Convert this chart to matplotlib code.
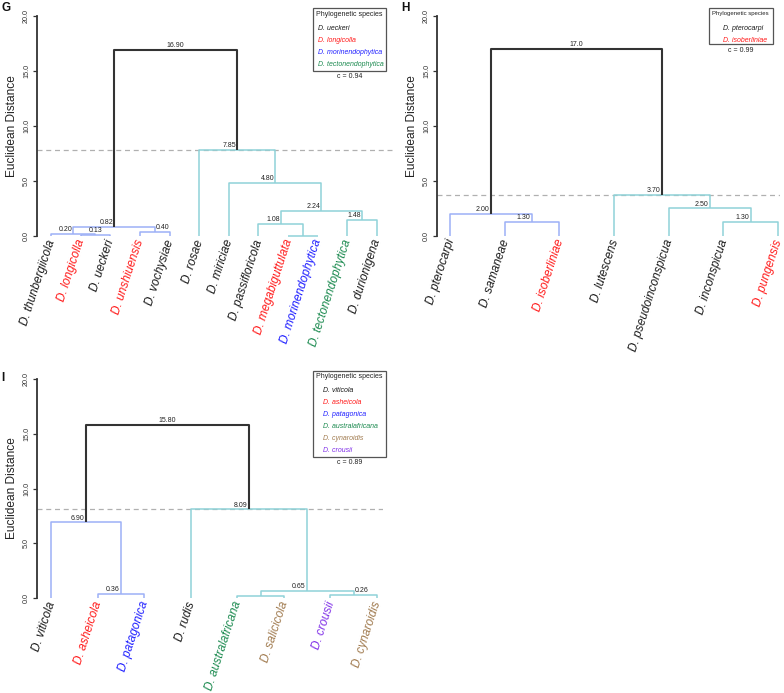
import matplotlib
matplotlib.use('Agg')
import matplotlib.pyplot as plt
from matplotlib.patches import Rectangle

plt.rcParams['font.family'] = ['Liberation Sans', 'DejaVu Sans']

W, H = 784, 693

BLACK = '#1a1a1a'
RED = '#ff1a1a'
BLUE = '#1f1fff'
GREEN = '#1b8a4f'
BROWN = '#a07a4e'
PURPLE = '#8030e8'

# ---- panel G ----
g_leaves = ['D. thunbergiicola', 'D. longicolla', 'D. ueckeri', 'D. unshiuensis',
            'D. vochysiae', 'D. rosae', 'D. miriciae', 'D. passifloricola',
            'D. megabiguttulata', 'D. morinendophytica', 'D. tectonendophytica',
            'D. durionigena']
g_leaf_colors = [BLACK, RED, BLACK, RED, BLACK, BLACK, BLACK, BLACK, RED, BLUE, GREEN, BLACK]
# merges: node ids 0..n-1 are leaves, merge k creates node n+k
g_left = [1, 0, 3, 13, 8, 7, 10, 17, 6, 5, 15]
g_right = [2, 12, 4, 14, 9, 16, 11, 18, 19, 20, 21]
g_heights = [0.13, 0.20, 0.40, 0.82, 0.02, 1.08, 1.48, 2.24, 4.80, 7.85, 16.90]
g_labels = ['0.13', '0.20', '0.40', '0.82', '', '1.08', '1.48', '2.24', '4.80', '7.85', '16.90']
g_cut = 7.85
g_legend = ['D. ueckeri', 'D. longicolla', 'D. morinendophytica', 'D. tectonendophytica']
g_legend_colors = [BLACK, RED, BLUE, GREEN]
g_coph = 'c = 0.94'

# ---- panel H ----
h_leaves = ['D. pterocarpi', 'D. samaneae', 'D. isoberliniae', 'D. lutescens',
            'D. pseudoinconspicua', 'D. inconspicua', 'D. pungensis']
h_leaf_colors = [BLACK, BLACK, RED, BLACK, BLACK, BLACK, RED]
h_left = [1, 0, 5, 4, 3, 8]
h_right = [2, 7, 6, 9, 10, 11]
h_heights = [1.30, 2.00, 1.30, 2.50, 3.70, 17.0]
h_labels = ['1.30', '2.00', '1.30', '2.50', '3.70', '17.0']
h_cut = 3.70
h_legend = ['D. pterocarpi', 'D. isoberliniae']
h_legend_colors = [BLACK, RED]
h_coph = 'c = 0.99'

# ---- panel I ----
i_leaves = ['D. viticola', 'D. asheicola', 'D. patagonica', 'D. rudis',
            'D. australafricana', 'D. salicicola', 'D. crousii', 'D. cynaroidis']
i_leaf_colors = [BLACK, RED, BLUE, BLACK, GREEN, BROWN, PURPLE, BROWN]
i_left = [1, 0, 4, 6, 10, 3, 9]
i_right = [2, 8, 5, 7, 11, 12, 13]
i_heights = [0.36, 6.90, 0.15, 0.26, 0.65, 8.09, 15.80]
i_labels = ['0.36', '6.90', '', '0.26', '0.65', '8.09', '15.80']
i_cut = 8.09
i_legend = ['D. viticola', 'D. asheicola', 'D. patagonica', 'D. australafricana',
            'D. cynaroidis', 'D. crousii']
i_legend_colors = [BLACK, RED, BLUE, GREEN, BROWN, PURPLE]
i_coph = 'c = 0.89'

CLUSTER_COLORS = ['#9db0f6', '#8fd2d8']


def fx(p):
    return p / W


def fy(p):
    return 1 - p / H


def dendrogram(fig, box, leaves, leaf_colors, left, right, heights, labels, cut,
               label_ha=None):
    x0, x1, y0, y1, first_leaf, last_leaf = box
    ax = fig.add_axes([fx(x0), fy(y1), fx(x1) - fx(x0), (y1 - y0) / H])
    n = len(leaves)
    step = (last_leaf - first_leaf) / (n - 1)
    ax.set_xlim(1 - (first_leaf - x0) / step, n + (x1 - last_leaf) / step)
    ax.set_ylim(0, 20)

    xs = {i: i + 1 for i in range(n)}
    hs = {i: 0.0 for i in range(n)}
    for k in range(len(heights)):
        a, b = left[k], right[k]
        xs[n + k] = (xs[a] + xs[b]) / 2
        hs[n + k] = heights[k]

    # cluster membership: the two children of the root get the two colours
    root = n + len(heights) - 1
    node_color = {root: '#333333'}
    stack = [(left[-1], CLUSTER_COLORS[0]), (right[-1], CLUSTER_COLORS[1])]
    while stack:
        node, c = stack.pop()
        node_color[node] = c
        if node >= n:
            stack.append((left[node - n], c))
            stack.append((right[node - n], c))

    label_ha = label_ha or {}
    for k in range(len(heights)):
        node = n + k
        a, b = left[k], right[k]
        h = heights[k]
        is_root = node == root
        ax.plot([xs[a], xs[a], xs[b], xs[b]], [hs[a], h, h, hs[b]],
                color=node_color[node], lw=1.5 if is_root else 1.1,
                solid_capstyle='butt', clip_on=False, zorder=3 if is_root else 2)
        if labels[k]:
            ha = 'center' if is_root else label_ha.get(k, 'right')
            dx = {'right': -0.03, 'left': 0.03, 'center': 0.0}[ha]
            ax.text(xs[node] + dx, h + 0.08, labels[k], ha=ha, va='bottom',
                    fontsize=5, color='#222222', zorder=4)

    ax.axhline(cut, color='#b0b0b0', lw=0.9, ls=(0, (4, 3)), zorder=1)

    for i, name in enumerate(leaves):
        ax.text(xs[i] + 0.02, -0.35, name, rotation=72, rotation_mode='anchor',
                ha='right', va='center', style='italic', fontsize=8.6,
                color=leaf_colors[i])

    for s in ['top', 'right', 'bottom']:
        ax.spines[s].set_visible(False)
    ax.spines['left'].set_bounds(0, 20)
    ax.spines['left'].set_linewidth(1.3)
    ax.spines['left'].set_color('#333333')
    ax.set_xticks([])
    ax.set_yticks([0, 5, 10, 15, 20])
    ax.set_yticklabels(['0.0', '5.0', '10.0', '15.0', '20.0'], rotation=90,
                       va='center', fontsize=5.2, color='#333333')
    ax.tick_params(axis='y', length=3, width=0.9, color='#333333', pad=2)
    ax.patch.set_alpha(0)
    fig.text(fx(x0 - 25), fy((y0 + y1) / 2), 'Euclidean Distance', rotation=90,
             ha='center', va='center', fontsize=8.6, color='#222222')
    return ax


def legend(fig, box, names, colors, coph, text_x, rows, title_size=5):
    bx0, by0, bx1, by1 = box
    fig.patches.append(Rectangle((fx(bx0), fy(by1)), fx(bx1) - fx(bx0), (by1 - by0) / H,
                                 transform=fig.transFigure, fill=False,
                                 edgecolor='#555555', lw=0.9))
    fig.text(fx(bx0 + 3), fy(rows[0]), 'Phylogenetic species', ha='left',
             va='center', fontsize=title_size, color='#222222')
    for name, c, r in zip(names, colors, rows[1:]):
        fig.text(fx(text_x), fy(r), name, ha='left', va='center', fontsize=5,
                 style='italic', color=c)
    fig.text(fx((bx0 + bx1) / 2), fy(by1 + 6), coph, ha='center', va='center',
             fontsize=5, color='#222222')


fig = plt.figure(figsize=(W / 100, H / 100), dpi=100)

dendrogram(fig, (37, 393, 16, 236, 51, 377), g_leaves, g_leaf_colors, g_left, g_right,
           g_heights, g_labels, g_cut, label_ha={0: 'center', 2: 'left'})
legend(fig, (313, 8, 386, 71), g_legend, g_legend_colors, g_coph, 318,
       [14, 28, 40, 52, 64])

dendrogram(fig, (437, 780, 16, 236, 450, 778), h_leaves, h_leaf_colors, h_left, h_right,
           h_heights, h_labels, h_cut)
legend(fig, (709, 8, 773, 44), h_legend, h_legend_colors, h_coph, 723, [14, 29, 41],
       title_size=4.3)

dendrogram(fig, (37, 383, 379, 598, 51, 377), i_leaves, i_leaf_colors, i_left, i_right,
           i_heights, i_labels, i_cut, label_ha={3: 'left'})
legend(fig, (313, 371, 386, 457), i_legend, i_legend_colors, i_coph, 323,
       [376, 391, 403, 415, 427, 439, 451])

for letter, (px, py) in zip(['G', 'H', 'I'], [(1, 8), (401, 8), (1, 378)]):
    fig.text(fx(px), fy(py), letter, ha='left', va='center', fontsize=8.5,
             fontweight='bold', color='#111111')

fig.savefig('out.png', dpi=100)
